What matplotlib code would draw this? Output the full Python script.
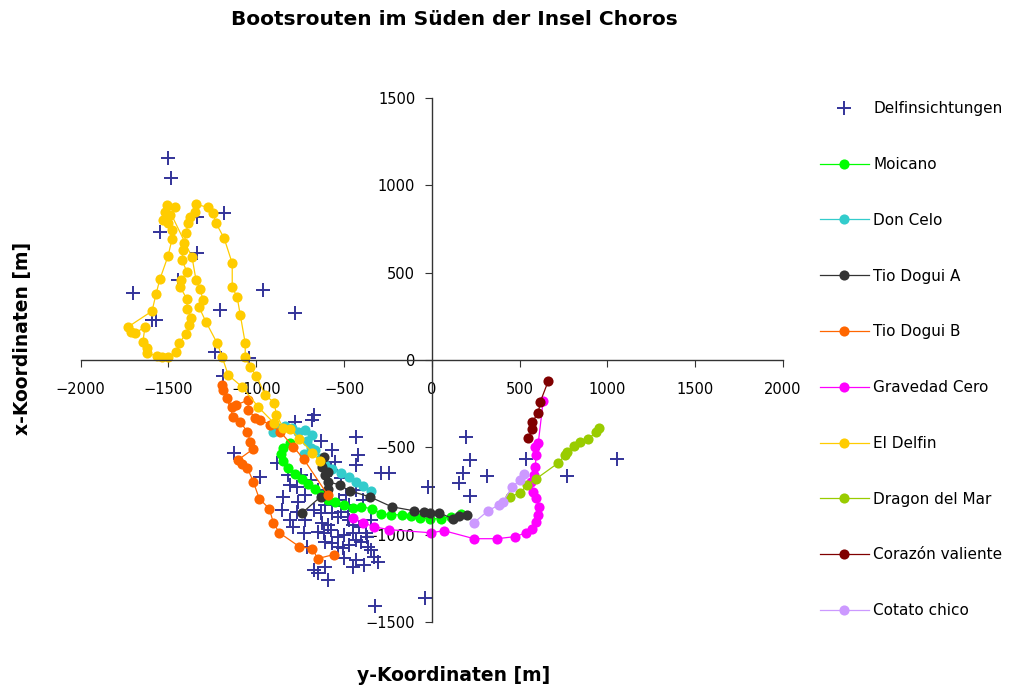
import matplotlib.pyplot as plt

# Delfinsichtungen (x = y-Koordinate, y = x-Koordinate)
delfin_x = [-1503, -1486, -1549, -1183, -1337, -1337, -1703, -960, -777, -1594,
            -1571, -1206, -1446, -1234, -1040, -1189, -1126, -674, -680, -777,
            -434, -634, -571, -423, -434, -549, -291, -246, -880, -817,
            -977, -23, 194, 217, 177, 154, 217, 314, 537, 771,
            1057, -326, -40,
            -846, -760, -766, -789, -731, -709, -674, -634, -623, -589,
            -566, -537, -520, -480, -651, -617, -606, -566, -537, -503,
            -451, -537, -509, -474, -434, -406, -366, -349, -331, -377,
            -451, -503, -434, -451, -389, -309, -606, -674, -651, -589,
            -474, -417, -577, -743, -766, -691, -646, -577, -520, -491,
            -434, -394, -474, -606, -531, -806, -720, -851, -806, -720,
            -349, -371]
delfin_y = [1154, 1040, 731, 840, 611, 817, 383, 400, 269, 229,
            229, 286, 457, 46, 11, -91, -531, -314, -343, -354,
            -440, -463, -514, -543, -600, -583, -646, -646, -589, -657,
            -669, -726, -440, -571, -646, -703, -777, -663, -566, -663,
            -566, -1411, -1360,
            -783, -811, -869, -954, -989, -1069, -857, -874, -931, -943,
            -874, -897, -869, -897, -983, -989, -1040, -1046, -1011, -1000,
            -989, -1069, -1074, -1057, -1029, -1040, -1069, -1086, -1126, -989,
            -943, -1131, -1143, -1183, -1171, -1154, -1183, -1200, -1217, -1257,
            -914, -954, -971, -657, -726, -686, -743, -629, -674, -771,
            -743, -800, -829, -829, -800, -714, -771, -857, -914, -914,
            -914, -1011]

moicano_x = [-806, -846, -857, -846, -817, -777, -737, -703, -663, -623, -589, -549, -503,
             -451, -406, -343, -291, -234, -171, -120, -69, -11, 51, 109, 166]
moicano_y = [-474, -503, -537, -577, -617, -651, -680, -709, -737, -771, -800, -811, -829,
             -846, -840, -851, -880, -886, -886, -891, -903, -909, -909, -897, -880]

doncelo_x = [-903, -874, -834, -794, -760, -720, -680, -714, -691, -726, -663, -634, -606,
             -566, -520, -474, -434, -394, -349]
doncelo_y = [-411, -389, -377, -389, -411, -400, -429, -463, -503, -537, -514, -560, -600,
             -623, -646, -669, -697, -720, -749]

tioA_x = [-737, -634, -589, -606, -623, -617, -594, -594, -526, -469, -354, -229, -103,
          -46, -11, 40, 120, 154, 200]
tioA_y = [-874, -783, -737, -657, -611, -554, -640, -697, -714, -749, -783, -840, -863,
          -869, -874, -874, -909, -891, -886]

tioB_x = [-594, -731, -789, -863, -920, -977, -1006, -1046, -1046, -1114, -1137, -1166,
          -1189, -1194, -1131, -1091, -1051, -1034, -1017, -1103, -1080, -1051, -1017,
          -983, -926, -903, -869, -754, -680, -651, -560]
tioB_y = [-771, -566, -497, -411, -371, -343, -331, -286, -229, -257, -269, -217,
          -171, -143, -326, -354, -411, -469, -509, -571, -594, -617, -697,
          -794, -851, -931, -989, -1069, -1080, -1137, -1114]

gravedad_x = [-451, -394, -331, -246, -6, 69, 240, 371, 474, 537, 571, 594, 606, 611,
              594, 577, 566, 583, 589, 594, 589, 606, 634]
gravedad_y = [-903, -931, -954, -971, -989, -977, -1023, -1023, -1011, -989, -966, -926,
              -886, -840, -789, -754, -697, -657, -611, -543, -497, -474, -234]

eldelfin_x = [-640, -680, -754, -806, -846, -886, -897, -949, -1000, -1034, -1063, -1063,
              -1091, -1109, -1137, -1137, -1183, -1229, -1246, -1274, -1343, -1349, -1377,
              -1389, -1400, -1411, -1417, -1423, -1394, -1429, -1434, -1394, -1394, -1371,
              -1383, -1400, -1440, -1457, -1503, -1537, -1566, -1623, -1623, -1646, -1634,
              -1691, -1714, -1731, -1594, -1571, -1549, -1503, -1480, -1480, -1503, -1531,
              -1491, -1520, -1463, -1509, -1366, -1343, -1320, -1303, -1326, -1286, -1223,
              -1194, -1160, -1080, -989, -900]
eldelfin_y = [-577, -531, -451, -394, -389, -314, -246, -200, -91, -40, 17, 97,
              257, 360, 417, 554, 697, 783, 840, 874, 891, 846, 817,
              783, 726, 669, 629, 571, 503, 457, 417, 349, 291, 240,
              200, 149, 97, 46, 17, 17, 23, 40, 69, 103, 189,
              154, 160, 189, 280, 377, 463, 594, 691, 743, 783, 800,
              829, 846, 874, 886, 589, 457, 406, 343, 303, 217, 97,
              17, -86, -154, -269, -360]

dragon_x = [954, 937, 891, 846, 811, 771, 760, 720, 594, 543, 503, 446]
dragon_y = [-389, -411, -451, -469, -491, -526, -543, -589, -680, -714, -760, -783]

corazon_x = [663, 617, 606, 571, 571, 549]
corazon_y = [-120, -240, -303, -354, -394, -446]

cotato_x = [526, 503, 457, 406, 383, 320, 240]
cotato_y = [-651, -686, -726, -811, -829, -863, -931]

routes = [
    ("Moicano", moicano_x, moicano_y, "#00FF00"),
    ("Don Celo", doncelo_x, doncelo_y, "#33CCCC"),
    ("Tio Dogui A", tioA_x, tioA_y, "#333333"),
    ("Tio Dogui B", tioB_x, tioB_y, "#FF6600"),
    ("Gravedad Cero", gravedad_x, gravedad_y, "#FF00FF"),
    ("El Delfin", eldelfin_x, eldelfin_y, "#FFCC00"),
    ("Dragon del Mar", dragon_x, dragon_y, "#99CC00"),
    ("Corazón valiente", corazon_x, corazon_y, "#800000"),
    ("Cotato chico", cotato_x, cotato_y, "#CC99FF"),
]

fig = plt.figure(figsize=(10.15, 6.88), dpi=100)
ax = fig.add_axes([0.0795, 0.0959, 0.692, 0.7616])

ax.plot(delfin_x, delfin_y, '+', color='#333399', markersize=10, markeredgewidth=1.4,
        linestyle='none', label='Delfinsichtungen')
for name, xs, ys, col in routes:
    ax.plot(xs, ys, '-o', color=col, lw=0.9, markersize=7.3, markeredgewidth=0, label=name)

ax.set_xlim(-2000, 2000)
ax.set_ylim(-1500, 1500)
ax.set_xticks(range(-2000, 2001, 500))
ax.set_yticks(range(-1500, 1501, 500))
ax.spines['left'].set_position('zero')
ax.spines['bottom'].set_position('zero')
ax.spines['top'].set_visible(False)
ax.spines['right'].set_visible(False)
for s in ['left', 'bottom']:
    ax.spines[s].set_color('#333333')
    ax.spines[s].set_linewidth(1)
ax.tick_params(axis='x', direction='out', length=5, pad=11, labelsize=10.5, color='#333333')
ax.tick_params(axis='y', direction='out', length=5, pad=7, labelsize=10.5, color='#333333')

fig.text(0.448, 0.972, 'Bootsrouten im Süden der Insel Choros', ha='center', va='center',
         fontsize=14.5, fontweight='bold')
fig.text(0.447, 0.018, 'y-Koordinaten [m]', ha='center', va='center',
         fontsize=13.5, fontweight='bold')
fig.text(0.022, 0.508, 'x-Koordinaten [m]', ha='center', va='center', rotation=90,
         fontsize=13.5, fontweight='bold')

fig.legend(loc='upper left', bbox_to_anchor=(0.794, 0.873), frameon=False, fontsize=11,
           labelspacing=2.67, handlelength=3.2, handletextpad=0.3, numpoints=1)

fig.savefig('out.png', dpi=100)
